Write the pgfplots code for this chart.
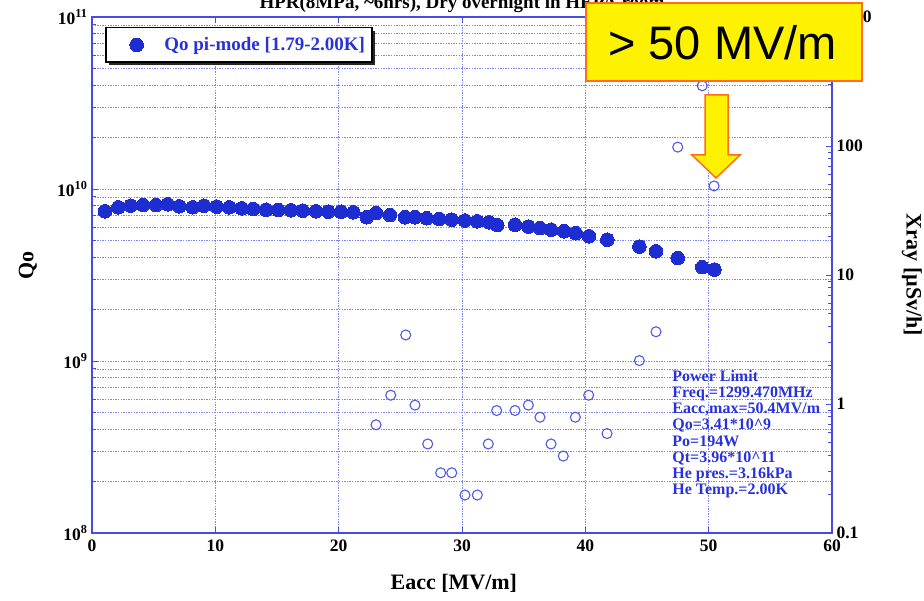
\documentclass[border=0pt]{standalone}
\usepackage{pgfplots}
\pgfplotsset{compat=1.18}
\usepackage{fontspec}
\setmainfont{Liberation Serif}
\newfontfamily\sansfont{Liberation Sans}
\usetikzlibrary{shadows}
\definecolor{axblue}{RGB}{70,75,225}
\definecolor{gridblue}{RGB}{125,135,235}
\definecolor{ptblue}{RGB}{30,45,210}
\definecolor{openblue}{RGB}{80,90,230}
\definecolor{txtblue}{RGB}{40,50,220}
\definecolor{boxorange}{RGB}{255,110,20}
\pgfplotsset{mylegimg/.style={legend image code/.code={\path (0pt,0pt) (50pt,0pt); \draw[##1] plot[only marks] coordinates {(25pt,0pt)};}}}

\pgfplotstableread{
x q
1.05 7.42e9
2.13 7.83e9
3.14 8.00e9
4.14 8.07e9
5.19 8.07e9
6.14 8.15e9
7.08 7.93e9
8.16 7.83e9
9.08 8.00e9
10.11 7.89e9
11.13 7.83e9
12.14 7.72e9
13.08 7.65e9
14.11 7.58e9
15.11 7.55e9
16.14 7.52e9
17.08 7.48e9
18.16 7.42e9
19.16 7.38e9
20.19 7.38e9
21.19 7.32e9
22.27 6.85e9
23.03 7.25e9
24.16 7.06e9
25.38 6.85e9
26.19 6.85e9
27.14 6.76e9
28.16 6.69e9
29.16 6.63e9
30.24 6.56e9
31.24 6.49e9
32.19 6.40e9
32.86 6.17e9
34.30 6.20e9
35.38 6.04e9
36.32 5.93e9
37.22 5.80e9
38.27 5.68e9
39.22 5.53e9
40.30 5.31e9
41.78 5.07e9
44.38 4.62e9
45.73 4.34e9
47.49 3.97e9
49.48 3.51e9
50.46 3.40e9
}\qodata

\pgfplotstableread{
x xr
23.03 0.69
24.22 1.17
25.44 3.43
26.19 0.98
27.22 0.49
28.27 0.293
29.17 0.293
30.24 0.197
31.24 0.197
32.13 0.49
32.81 0.89
34.30 0.89
35.38 0.98
36.32 0.79
37.22 0.49
38.21 0.395
39.19 0.79
40.27 1.17
41.76 0.59
44.38 2.17
45.73 3.63
47.49 98
49.48 293
50.44 49
}\xraydata

\begin{document}
\begin{tikzpicture}
\useasboundingbox (0pt,0pt) rectangle (924pt,600pt);
\begin{axis}[
  at={(92pt,67pt)}, anchor=south west,
  scale only axis, width=740pt, height=516pt,
  xmin=0, xmax=60, ymode=log, ymin=1e8, ymax=1e11,
  xtick={0,10,20,30,40,50,60},
  xticklabels={0,10,20,30,40,50,60},
  ytick={1e8,1e9,1e10,1e11},
  yticklabels={10\textsuperscript{8},10\textsuperscript{9},10\textsuperscript{10},10\textsuperscript{11}},
  ytick pos=left,
  xtick pos=both,
  tick align=inside,
  axis line style={axblue, line width=1.1pt},
  every tick/.style={axblue, line width=0.8pt},
  major tick length=6pt, minor tick length=4pt,
  xmajorgrids, ymajorgrids, yminorgrids,
  major grid style={gridblue, line width=0.7pt, dash pattern=on 1.3pt off 1.3pt},
  minor grid style={gridblue, line width=0.7pt, dash pattern=on 1.3pt off 1.3pt},
  tick label style={font=\fontsize{17.5}{17.5}\selectfont\bfseries, black},
  xticklabel style={yshift=-3pt},
  yticklabel style={xshift=-1pt},
  xlabel={Eacc [MV/m]},
  ylabel={Qo},
  label style={font=\fontsize{22}{22}\selectfont\bfseries, black},
  xlabel style={at={(rel axis cs:0.489,-0.097)}, anchor=center},
  ylabel style={at={(rel axis cs:-0.0865,0.519)}, anchor=center},
  legend style={at={(rel axis cs:0.0176,0.981)}, anchor=north west,
    draw=black, line width=1.6pt, fill=white,
    drop shadow={shadow xshift=3pt, shadow yshift=-3pt, fill=black!85, opacity=1},
    font=\fontsize{19}{19}\selectfont\bfseries, text=txtblue,
    inner xsep=5pt, inner ysep=8pt},
]
\addplot[only marks, mark=*, mark size=6.8pt, color=ptblue, mark options={fill=ptblue, draw=ptblue, line width=0pt}, mylegimg] table[x=x,y=q] {\qodata};
\addlegendentry{Qo pi-mode [1.79-2.00K]}
\node[anchor=north west, align=left, inner sep=0pt, text=txtblue,
  font=\fontsize{16}{16.2}\selectfont\bfseries]
  at (rel axis cs:0.784,0.316) {Power Limit\\Freq.=1299.470MHz\\Eacc,max=50.4MV/m\\Qo=3.41*10\textasciicircum9\\Po=194W\\Qt=3.96*10\textasciicircum11\\He pres.=3.16kPa\\He Temp.=2.00K};
\end{axis}
\begin{axis}[
  at={(92pt,67pt)}, anchor=south west,
  scale only axis, width=740pt, height=516pt,
  xmin=0, xmax=60, ymode=log, ymin=0.1, ymax=1000,
  axis x line=none,
  axis y line*=right,
  ytick={0.1,1,10,100,1000},
  yticklabels={0.1,1,10,100,1000},
  tick align=inside,
  axis line style={axblue, line width=1.1pt},
  every tick/.style={axblue, line width=0.8pt},
  major tick length=6pt, minor tick length=4pt,
  tick label style={font=\fontsize{17.5}{17.5}\selectfont\bfseries, black},
  yticklabel style={xshift=1pt},
  ylabel={Xray [\textmu Sv/h]},
  ylabel style={at={(rel axis cs:1.108,0.5)}, anchor=center, rotate=180, font=\fontsize{22}{22}\selectfont\bfseries, black},
]
\addplot[only marks, mark=o, mark size=5pt, color=openblue, mark options={line width=1.1pt}] table[x=x,y=xr] {\xraydata};
\end{axis}
\node[anchor=base, inner sep=0pt, font=\fontsize{19}{19}\selectfont\bfseries] at (462pt,591pt) {HPR(8MPa, \textasciitilde6hrs), Dry overnight in HEPA room};
\filldraw[fill=yellow, draw=boxorange, line width=2pt] (586pt,519pt) rectangle (862pt,597pt);
\node[anchor=base, inner sep=0pt, font=\sansfont\fontsize{47}{47}\selectfont] at (722.5pt,540pt) {> 50 MV/m};
\filldraw[fill=yellow, draw=boxorange, line width=1.5pt] (705pt,505pt) -- (728pt,505pt) -- (728pt,445pt) -- (740pt,445pt) -- (716pt,422pt) -- (692pt,445pt) -- (705pt,445pt) -- cycle;
\end{tikzpicture}
\end{document}
